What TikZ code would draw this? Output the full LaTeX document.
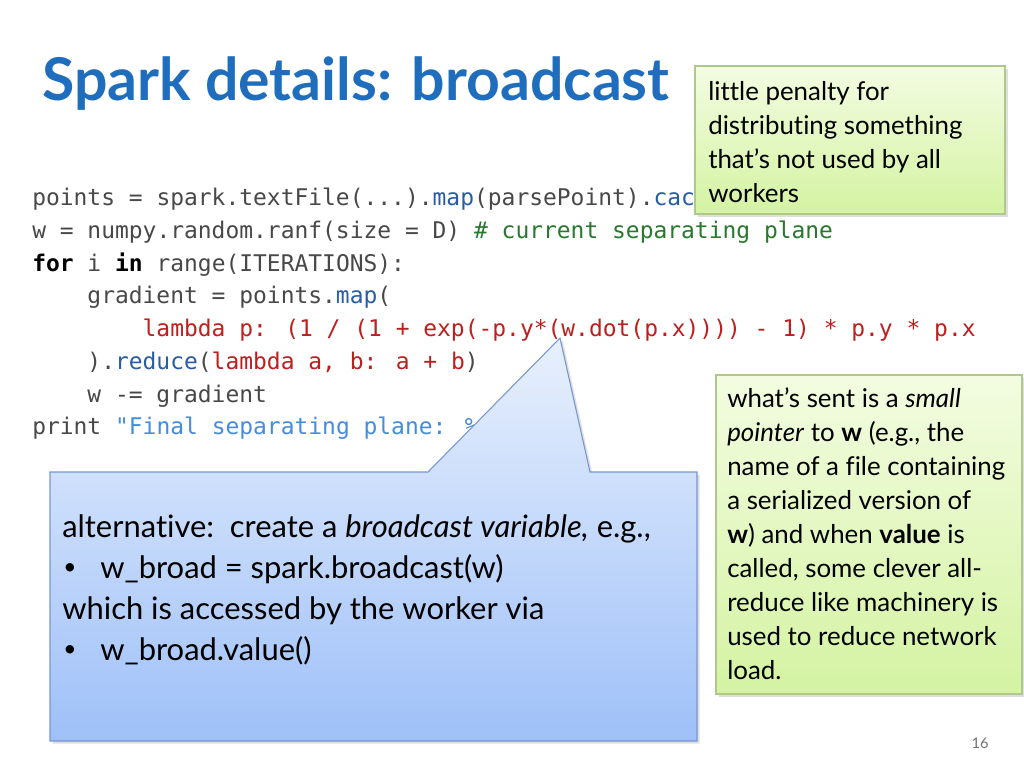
\documentclass[tikz,border=0pt]{standalone}
\usepackage{fontspec}
\setmainfont{Lato}[Ligatures={NoCommon}]
\newfontfamily\codefont{DejaVu Sans Mono}
\usetikzlibrary{shadows}
\definecolor{titleblue}{RGB}{31,110,190}
\definecolor{codegray}{RGB}{72,72,72}
\definecolor{codeblue}{RGB}{40,92,165}
\definecolor{codered}{RGB}{190,30,30}
\definecolor{codegreen}{RGB}{40,120,45}
\definecolor{codestr}{RGB}{70,140,220}
\definecolor{gtop}{RGB}{243,252,225}
\definecolor{gbot}{RGB}{212,243,162}
\definecolor{gborder}{RGB}{175,198,140}
\definecolor{btop}{RGB}{232,240,253}
\definecolor{bbot}{RGB}{158,192,248}
\definecolor{bborder}{RGB}{120,150,210}
\newcommand{\kcb}[1]{\textcolor{codeblue}{#1}}
\newcommand{\kcr}[1]{\textcolor{codered}{#1}}
\newcommand{\kcg}[1]{\textcolor{codegreen}{#1}}
\newcommand{\kcs}[1]{\textcolor{codestr}{#1}}
\newcommand{\kck}[1]{\textcolor{black}{\bfseries #1}}
\newcommand{\smallbullet}{\raisebox{0.12em}{\fontsize{17}{20}\selectfont•}}
\begin{document}
\begin{tikzpicture}[x=0.75pt,y=-0.75pt,
  codeline/.style={anchor=base west,inner sep=0pt,text=codegray,font=\codefont\fontsize{17.2}{20}\selectfont},
  boxtext/.style={anchor=base west,inner sep=0pt,text=black,font=\fontsize{19.4}{23}\selectfont},
  calltext/.style={anchor=base west,inner sep=0pt,text=black,font=\fontsize{23.2}{28}\selectfont},
  notebox/.style={draw=gborder,line width=0.8pt,top color=gtop,bottom color=gbot,
    drop shadow={opacity=0.25,shadow xshift=2pt,shadow yshift=-2pt}},
  callbox/.style={draw=bborder,line width=0.8pt,top color=btop,bottom color=bbot,
    drop shadow={opacity=0.25,shadow xshift=2pt,shadow yshift=-2pt}}]
\useasboundingbox[fill=white] (0,0) rectangle (1024,768);

% title
\node[anchor=base west,inner sep=0pt,text=titleblue,font=\bfseries\fontsize{44.2}{52}\selectfont] (title) at (42,100) {Spark details: broadcast};

% code
\node[codeline] (c1) at (32,205) {points = spark.textFile(...).\kcb{map}(parsePoint).\kcb{cac}};
\node[codeline] (c2) at (32,238) {w = numpy.random.ranf(size = D) \kcg{\# current separating plane}};
\node[codeline] (c3) at (32,271) {\kck{for} i \kck{in} range(ITERATIONS):};
\node[codeline] (c4) at (87.2,303) {gradient = points.\kcb{map}(};
\node[codeline] (c5) at (142.4,336) {\kcr{lambda p: (1 / (1 + exp(-p.y*(w.dot(p.x)))) - 1) * p.y * p.x}};
\node[codeline] (c6) at (87.2,369) {).\kcb{reduce}(\kcr{lambda a, b: a + b})};
\node[codeline] (c7) at (87.2,402) {w -= gradient};
\node[codeline] (c8) at (32,434) {print \kcs{"Final separating plane: \%}};

% green note top
\path[notebox] (695,66) rectangle (1005,214);
\foreach \t [count=\i] in {little penalty for,distributing something,that’s not used by all,workers}
  \node[boxtext] (ga\i) at (708,{100+34*(\i-1)}) {\t};

% green note right
\path[notebox] (716,375) rectangle (1022,694);
\foreach \t [count=\i] in {what’s sent is a \textit{small},{\textit{pointer} to \textbf{w} (e.g., the},name of a file containing,a serialized version of,\textbf{w}) and when \textbf{value} is,{called, some clever all-},reduce like machinery is,used to reduce network,load.}
  \node[boxtext] (gb\i) at (727,{407+34*(\i-1)}) {\t};

% callout
\path[callbox] (50,472) -- (428,472) -- (560,338) -- (590,472) -- (697,472) -- (697,741) -- (50,741) -- cycle;
\node[calltext] (k1) at (62,537) {alternative:\ \ create a \textit{broadcast variable,} e.g.,};
\node[calltext] (k2) at (63,578) {\smallbullet};
\node[calltext] (k2t) at (100,578) {w\_broad = spark.broadcast(w)};
\node[calltext] (k3) at (62,619) {which is accessed by the worker via};
\node[calltext] (k4) at (63,660) {\smallbullet};
\node[calltext] (k4t) at (100,660) {w\_broad.value()};

% page number
\node[anchor=base east,inner sep=0pt,text=black!55,font=\fontsize{11}{13}\selectfont] (pg) at (989,748) {16};
\end{tikzpicture}
\end{document}
